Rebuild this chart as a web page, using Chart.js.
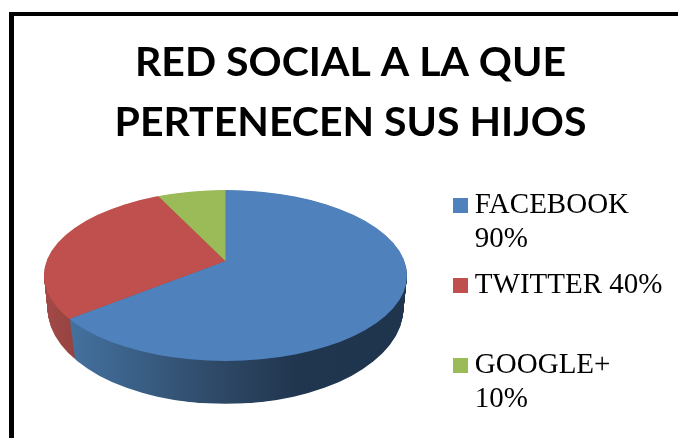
<!DOCTYPE html>
<html>
<head>
<meta charset="utf-8">
<style>
html,body{margin:0;padding:0;background:#fff;overflow:hidden}
#frame{position:absolute;left:9px;top:12px;width:700px;height:440px;border-top:4px solid #000;border-left:5px solid #000;box-sizing:border-box}
canvas{position:absolute;left:0;top:0}
</style>
<script src="https://cdn.jsdelivr.net/npm/chart.js@4/dist/chart.umd.js"></script>
</head>
<body>
<div id="frame"></div>
<canvas id="c" width="678" height="438"></canvas>
<script>
const titleLines = ['RED SOCIAL A LA QUE', 'PERTENECEN SUS HIJOS'];
const categories = ['FACEBOOK', 'TWITTER', 'GOOGLE+'];
const values = [90, 40, 10];
const legendTexts = [['FACEBOOK', '90%'], ['TWITTER 40%', ''], ['GOOGLE+', '10%']];
const colors = ['#4f81bd', '#c0504d', '#9bbb59'];

// 3D view of the pie (perspective tilt)
const view = {
  radius: 222, tilt: 0.465,
  top: {cx: 225.5, cy: 275.5, rx: 181.5, ry: 85.5, ax: 225.5, ay: 261, scale: 1},
  bottom: {cx: 225.5, cy: 308, rx: 178, ry: 96, ax: 225.5, ay: 302.5, scale: 0.98},
  layers: 42
};
const wallStops = [
  [[70, '#44719f'], [225, '#2d4764'], [300, '#20354e'], [405, '#1f344d']],
  [[44, '#a34a47'], [73, '#964341']],
  [[150, '#7c9648'], [225, '#7c9648']]
];

function swatch(color) {
  const s = document.createElement('canvas');
  s.width = 15; s.height = 15;
  const g = s.getContext('2d');
  g.fillStyle = color; g.fillRect(0, 0, 15, 15);
  return s;
}
const lerp = (a, b, t) => a + (b - a) * t;

const pie3d = {
  id: 'pie3d',
  beforeDatasetDraw(chart) {
    const ctx = chart.ctx;
    const els = chart.getDatasetMeta(0).data;
    const r0 = els[0].outerRadius, x0 = els[0].x, y0 = els[0].y;
    const paint = (t, shaded) => {
      const T = view.top, B = view.bottom;
      const k = view.radius / r0 * lerp(T.scale, B.scale, t);
      const ax = lerp(T.ax, B.ax, t), ay = lerp(T.ay, B.ay, t);
      ctx.save();
      ctx.beginPath();
      ctx.ellipse(lerp(T.cx, B.cx, t), lerp(T.cy, B.cy, t), lerp(T.rx, B.rx, t), lerp(T.ry, B.ry, t), 0, 0, Math.PI * 2);
      ctx.clip();
      ctx.translate(ax, ay);
      ctx.scale(k, k * view.tilt);
      ctx.translate(-x0, -y0);
      els.forEach((el, i) => {
        const saved = el.options;
        let fill = saved.backgroundColor;
        if (shaded) {
          const st = wallStops[i];
          const lx = X => x0 + (X - ax) / k;
          const a = st[0][0], b = st[st.length - 1][0];
          const g = ctx.createLinearGradient(lx(a), 0, lx(b), 0);
          st.forEach(s => g.addColorStop((s[0] - a) / (b - a), s[1]));
          fill = g;
        }
        el.options = Object.assign({}, saved, {backgroundColor: fill});
        el.draw(ctx);
        el.options = saved;
      });
      ctx.restore();
    };
    for (let i = view.layers; i >= 1; i--) paint(i / view.layers, true);
    paint(0, false);
    return false;
  }
};

new Chart(document.getElementById('c'), {
  type: 'pie',
  data: {
    labels: categories,
    datasets: [{data: values, backgroundColor: colors, borderWidth: 0}]
  },
  plugins: [pie3d],
  options: {
    responsive: false,
    animation: false,
    layout: {padding: {top: 178.5, left: 28.5, right: 5.5, bottom: -20}},
    plugins: {
      tooltip: {enabled: false},
      title: {
        display: true,
        text: titleLines,
        color: '#000',
        font: {family: 'Lato', weight: 'bold', size: 41, lineHeight: 60 / 41},
        padding: {top: -145.5, bottom: 0}
      },
      legend: {
        display: true,
        position: 'right',
        align: 'start',
        labels: {
          color: '#000',
          font: {family: '"Liberation Serif"', size: 29, lineHeight: 34 / 29},
          padding: 12,
          usePointStyle: true,
          pointStyleWidth: 0.01,
          boxHeight: 15,
          generateLabels: () => categories.map((c, i) => ({
            text: legendTexts[i],
            fillStyle: colors[i],
            strokeStyle: colors[i],
            lineWidth: 0,
            pointStyle: swatch(colors[i]),
            hidden: false,
            index: i
          }))
        }
      }
    }
  }
});
</script>
</body>
</html>
